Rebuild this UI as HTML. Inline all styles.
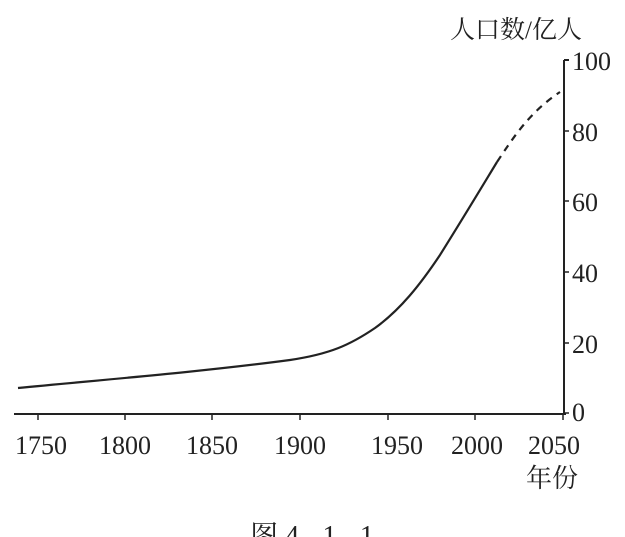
<!DOCTYPE html><html><head><meta charset="utf-8"><style>body{margin:0;background:#fff}svg{display:block}text{font-family:"Liberation Serif","Noto Serif CJK SC",serif;fill:#222}</style></head><body>
<svg width="625" height="537" viewBox="0 0 625 537">
<g stroke="#222" stroke-width="2" fill="none">
<line x1="14" y1="414" x2="566" y2="414"/>
<line x1="564" y1="60" x2="564" y2="414"/>
<line x1="564" y1="60" x2="569" y2="60"/>
<g stroke-width="1.5"><line x1="38" y1="414" x2="38" y2="420"/><line x1="125" y1="414" x2="125" y2="420"/><line x1="212" y1="414" x2="212" y2="420"/><line x1="300" y1="414" x2="300" y2="420"/><line x1="388" y1="414" x2="388" y2="420"/><line x1="475" y1="414" x2="475" y2="420"/><line x1="563" y1="414" x2="563" y2="420"/>
<line x1="564" y1="131" x2="569" y2="131"/><line x1="564" y1="201" x2="569" y2="201"/><line x1="564" y1="272" x2="569" y2="272"/><line x1="564" y1="343" x2="569" y2="343"/><line x1="564" y1="413" x2="569" y2="413"/></g>
<path d="M18,388 C100,380 200,372 290,360 C330,354 350,345 375,328 C400,310 420,285 440,255 C465,215 480,190 497,162" stroke-width="2.2"/>
<path d="M497,162 C515,135 530,112 560,92" stroke-width="2.2" stroke-dasharray="7,6"/>
</g>
<text x="450" y="38" font-size="25">人口数/亿人</text>
<g font-size="26"><text x="572" y="70">100</text><text x="572" y="141">80</text><text x="572" y="211">60</text><text x="572" y="282">40</text><text x="572" y="353">20</text><text x="572" y="421">0</text></g>
<g font-size="26" text-anchor="middle"><text x="41" y="454">1750</text><text x="125" y="454">1800</text><text x="212" y="454">1850</text><text x="300" y="454">1900</text><text x="397" y="454">1950</text><text x="477" y="454">2000</text><text x="554" y="454">2050</text></g>
<text x="526" y="487" font-size="26">年份</text>
<text x="312" y="545" font-size="28" text-anchor="middle">图 4 - 1 - 1</text>
</svg></body></html>
